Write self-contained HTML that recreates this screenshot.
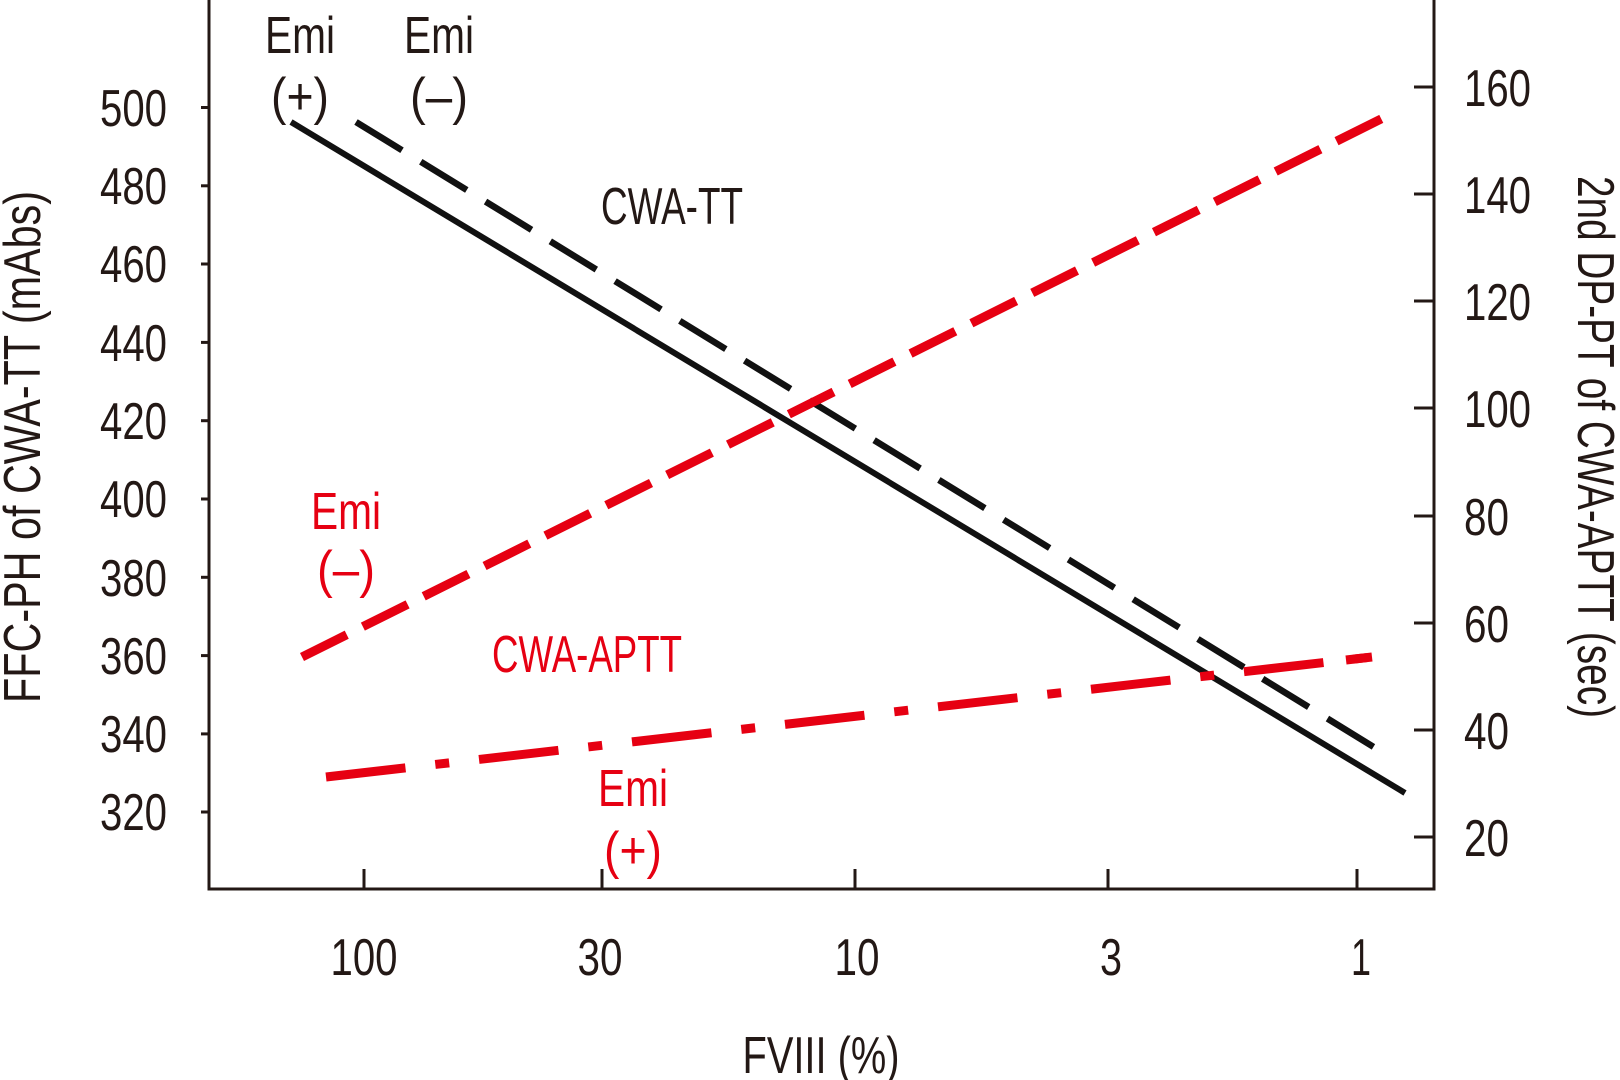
<!DOCTYPE html>
<html><head><style>body{margin:0;background:#fff}svg{display:block}</style></head><body>
<svg width="1620" height="1080" viewBox="0 0 1620 1080" xmlns="http://www.w3.org/2000/svg" font-family="'Liberation Sans Narrow','Liberation Sans',sans-serif">
<g stroke="#231815" stroke-width="3" fill="none">
<polyline points="209,0 209,889 1434,889 1434,0"/>
<line x1="201" y1="107.5" x2="209" y2="107.5"/><line x1="201" y1="185.8" x2="209" y2="185.8"/><line x1="201" y1="264" x2="209" y2="264"/><line x1="201" y1="342.4" x2="209" y2="342.4"/><line x1="201" y1="420.7" x2="209" y2="420.7"/><line x1="201" y1="499" x2="209" y2="499"/><line x1="201" y1="577.3" x2="209" y2="577.3"/><line x1="201" y1="655.6" x2="209" y2="655.6"/><line x1="201" y1="733.9" x2="209" y2="733.9"/><line x1="201" y1="812" x2="209" y2="812"/>
<line x1="1414" y1="87" x2="1434" y2="87"/><line x1="1414" y1="194" x2="1434" y2="194"/><line x1="1414" y1="301" x2="1434" y2="301"/><line x1="1414" y1="408" x2="1434" y2="408"/><line x1="1414" y1="516" x2="1434" y2="516"/><line x1="1414" y1="623" x2="1434" y2="623"/><line x1="1414" y1="730" x2="1434" y2="730"/><line x1="1414" y1="837" x2="1434" y2="837"/>
<line x1="364" y1="869" x2="364" y2="889"/><line x1="602" y1="869" x2="602" y2="889"/><line x1="855" y1="869" x2="855" y2="889"/><line x1="1108" y1="869" x2="1108" y2="889"/><line x1="1357" y1="869" x2="1357" y2="889"/>
</g>
<g fill="#231815" font-size="52" text-anchor="end">
<text x="167" y="126" textLength="67" lengthAdjust="spacingAndGlyphs">500</text>
<text x="167" y="204" textLength="67" lengthAdjust="spacingAndGlyphs">480</text>
<text x="167" y="282" textLength="67" lengthAdjust="spacingAndGlyphs">460</text>
<text x="167" y="361" textLength="67" lengthAdjust="spacingAndGlyphs">440</text>
<text x="167" y="439" textLength="67" lengthAdjust="spacingAndGlyphs">420</text>
<text x="167" y="517" textLength="67" lengthAdjust="spacingAndGlyphs">400</text>
<text x="167" y="596" textLength="67" lengthAdjust="spacingAndGlyphs">380</text>
<text x="167" y="674" textLength="67" lengthAdjust="spacingAndGlyphs">360</text>
<text x="167" y="752" textLength="67" lengthAdjust="spacingAndGlyphs">340</text>
<text x="167" y="830" textLength="67" lengthAdjust="spacingAndGlyphs">320</text>
</g>
<g fill="#231815" font-size="52" text-anchor="start">
<text x="1464" y="106" textLength="67" lengthAdjust="spacingAndGlyphs">160</text>
<text x="1464" y="213" textLength="67" lengthAdjust="spacingAndGlyphs">140</text>
<text x="1464" y="320" textLength="67" lengthAdjust="spacingAndGlyphs">120</text>
<text x="1464" y="427" textLength="67" lengthAdjust="spacingAndGlyphs">100</text>
<text x="1464" y="535" textLength="45" lengthAdjust="spacingAndGlyphs">80</text>
<text x="1464" y="642" textLength="45" lengthAdjust="spacingAndGlyphs">60</text>
<text x="1464" y="749" textLength="45" lengthAdjust="spacingAndGlyphs">40</text>
<text x="1464" y="856" textLength="45" lengthAdjust="spacingAndGlyphs">20</text>
</g>
<g fill="#231815" font-size="52" text-anchor="middle">
<text x="364" y="975" textLength="67" lengthAdjust="spacingAndGlyphs">100</text>
<text x="600" y="975" textLength="45" lengthAdjust="spacingAndGlyphs">30</text>
<text x="857" y="975" textLength="45" lengthAdjust="spacingAndGlyphs">10</text>
<text x="1111" y="975" textLength="22" lengthAdjust="spacingAndGlyphs">3</text>
<text x="1361" y="975" textLength="20" lengthAdjust="spacingAndGlyphs">1</text>
<text x="821" y="1073" textLength="157" lengthAdjust="spacingAndGlyphs">FVIII (%)</text>
<text transform="translate(40,447) rotate(-90)" textLength="512" lengthAdjust="spacingAndGlyphs">FFC-PH of CWA-TT (mAbs)</text>
<text transform="translate(1578,447) rotate(90)" textLength="542" lengthAdjust="spacingAndGlyphs">2nd DP-PT of CWA-APTT (sec)</text>
<text x="300" y="53" textLength="70" lengthAdjust="spacingAndGlyphs">Emi</text>
<text x="300" y="114" textLength="58" lengthAdjust="spacingAndGlyphs">(+)</text>
<text x="439" y="53" textLength="70" lengthAdjust="spacingAndGlyphs">Emi</text>
<text x="439" y="114" textLength="58" lengthAdjust="spacingAndGlyphs">(–)</text>
<text x="672" y="224" textLength="142" lengthAdjust="spacingAndGlyphs">CWA-TT</text>
</g>
<g fill="#e60012" font-size="52" text-anchor="middle">
<text x="346" y="529" textLength="70" lengthAdjust="spacingAndGlyphs">Emi</text>
<text x="346" y="587" textLength="58" lengthAdjust="spacingAndGlyphs">(–)</text>
<text x="587" y="672" textLength="190" lengthAdjust="spacingAndGlyphs">CWA-APTT</text>
<text x="633" y="806" textLength="70" lengthAdjust="spacingAndGlyphs">Emi</text>
<text x="633" y="868" textLength="58" lengthAdjust="spacingAndGlyphs">(+)</text>
</g>
<line x1="291" y1="122" x2="1405" y2="793" stroke="#111" stroke-width="6"/>
<line x1="356" y1="122" x2="1390" y2="757" stroke="#111" stroke-width="6.5" stroke-dasharray="54,22"/>
<line x1="302" y1="657" x2="1387" y2="116" stroke="#e60012" stroke-width="9" stroke-dasharray="50,18"/>
<line x1="326" y1="777" x2="1372" y2="657" stroke="#e60012" stroke-width="9" stroke-dasharray="80,30,14,30"/>
<line x1="1346" y1="660" x2="1372" y2="657" stroke="#e60012" stroke-width="9"/>
</svg>
</body></html>
